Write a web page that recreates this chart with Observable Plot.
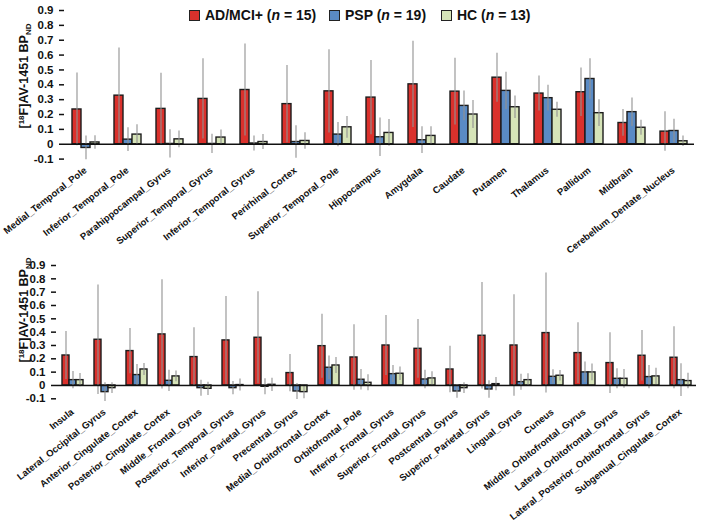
<!DOCTYPE html>
<html><head><meta charset="utf-8">
<script src="https://cdn.jsdelivr.net/npm/d3@7"></script>
<script src="https://cdn.jsdelivr.net/npm/@observablehq/plot@0.6"></script>
<style>
body{margin:0;background:#fff;font-family:"Liberation Sans",Arial,sans-serif;}
#wrap{position:relative;width:704px;height:527px;overflow:hidden;background:#fff;}
#top{position:absolute;left:0;top:0;}
#bottom{position:absolute;left:0;top:255px;}
.leg{position:absolute;top:7px;font-weight:bold;font-size:14px;white-space:nowrap;display:flex;align-items:center;color:#111;}
.sw{display:inline-block;width:9px;height:9px;border:1.5px solid #222;margin-right:5px;}
</style>
</head><body>
<div id="wrap">
  <div id="top"></div>
  <div id="bottom"></div>
  <div class="leg" style="left:189px"><span class="sw" style="background:#da312c"></span>AD/MCI+ (<i>n</i>&nbsp;=&nbsp;15)</div>
  <div class="leg" style="left:329px"><span class="sw" style="background:#5a8bc5"></span>PSP (<i>n</i>&nbsp;=&nbsp;19)</div>
  <div class="leg" style="left:441px"><span class="sw" style="background:#d6e4b8"></span>HC (<i>n</i>&nbsp;=&nbsp;13)</div>
</div>
<script>
const groups = ["AD/MCI+", "PSP", "HC"];
const groupColors = ["#da312c", "#5a8bc5", "#d6e4b8"];
const yTicks = [-0.1, 0, 0.1, 0.2, 0.3, 0.4, 0.5, 0.6, 0.7, 0.8, 0.9];

const regionsTop = ["Medial_Temporal_Pole","Inferior_Temporal_Pole","Parahippocampal_Gyrus","Superior_Temporal_Gyrus","Inferior_Temporal_Gyrus","Perirhinal_Cortex","Superior_Temporal_Pole","Hippocampus","Amygdala","Caudate","Putamen","Thalamus","Pallidum","Midbrain","Cerebellum_Dentate_Nucleus"];
const adTop    = [0.234,0.327,0.238,0.305,0.365,0.270,0.356,0.314,0.403,0.354,0.448,0.341,0.350,0.143,0.085];
const adTopSD  = [0.245,0.320,0.240,0.270,0.310,0.260,0.280,0.250,0.290,0.225,0.165,0.118,0.163,0.090,0.133];
const pspTop   = [-0.025,0.031,0.002,0.002,0.005,0.015,0.065,0.047,0.027,0.258,0.359,0.310,0.439,0.216,0.089];
const pspTopSD = [0.080,0.080,0.095,0.065,0.050,0.110,0.082,0.130,0.090,0.100,0.125,0.087,0.136,0.096,0.080];
const hcTop    = [0.012,0.065,0.033,0.045,0.015,0.022,0.114,0.076,0.056,0.200,0.249,0.232,0.209,0.111,0.020];
const hcTopSD  = [0.045,0.066,0.056,0.050,0.050,0.055,0.073,0.090,0.062,0.094,0.076,0.050,0.090,0.050,0.036];

const regionsBottom = ["Insula","Lateral_Occipital_Gyrus","Anterior_Cingulate_Cortex","Posterior_Cingulate_Cortex","Middle_Frontal_Gyrus","Posterior_Temporal_Gyrus","Inferior_Parietal_Gyrus","Precentral_Gyrus","Medial_Orbitofrontal_Cortex","Orbitofrontal_Pole","Inferior_Frontal_Gyrus","Superior_Frontal_Gyrus","Postcentral_Gyrus","Superior_Parietal_Gyrus","Lingual_Gyrus","Cuneus","Middle_Orbitofrontal_Gyrus","Lateral_Orbitofrontal_Gyrus","Lateral_Posterior_Orbitofrontal_Gyrus","Subgenual_Cingulate_Cortex"];
const adBottom    = [0.225,0.343,0.258,0.383,0.213,0.338,0.358,0.093,0.295,0.210,0.300,0.275,0.120,0.373,0.300,0.393,0.243,0.168,0.223,0.208];
const adBottomSD  = [0.180,0.410,0.170,0.410,0.220,0.330,0.345,0.140,0.240,0.245,0.225,0.220,0.175,0.400,0.380,0.450,0.228,0.228,0.190,0.233];
const pspBottom   = [0.040,-0.050,0.078,0.035,-0.020,-0.020,-0.010,-0.045,0.133,0.043,0.085,0.045,-0.045,-0.030,0.025,0.065,0.098,0.050,0.063,0.040];
const pspBottomSD = [0.065,0.070,0.080,0.080,0.060,0.050,0.060,0.060,0.088,0.077,0.065,0.070,0.050,0.065,0.060,0.053,0.078,0.075,0.087,0.123];
const hcBottom    = [0.040,-0.020,0.120,0.068,-0.025,0.003,0.005,-0.050,0.150,0.020,0.088,0.053,-0.020,0.010,0.040,0.073,0.098,0.050,0.068,0.033];
const hcBottomSD  = [0.050,0.040,0.045,0.040,0.050,0.045,0.050,0.050,0.060,0.060,0.050,0.050,0.040,0.050,0.048,0.040,0.063,0.070,0.062,0.058];

function table(regions, means, sds) {
  const rows = [];
  regions.forEach((r, i) => {
    groups.forEach((g, k) => {
      rows.push({region: r, group: g, value: means[k][i], sd: sds[k][i]});
    });
  });
  return rows;
}

function panel(regions, data, opts) {
  const plot = Plot.plot({
    width: 704,
    height: opts.height,
    marginLeft: opts.marginLeft,
    marginRight: opts.marginRight,
    marginTop: opts.marginTop,
    marginBottom: opts.marginBottom,
    style: {fontFamily: "'Liberation Sans', Arial, sans-serif", color: "#111", background: "transparent", overflow: "visible"},
    fx: {domain: regions, padding: 0},
    x: {domain: groups, paddingInner: 0, paddingOuter: 0.675, axis: null},
    y: {domain: [-0.1, 0.9]},
    color: {domain: groups, range: groupColors},
    marks: [
      Plot.barY(data, {fx: "region", x: "group", y: "value", fill: "group", stroke: "#1c1c1c", strokeWidth: 1.4}),
      Plot.ruleX(data, {fx: "region", x: "group", y1: d => d.value - d.sd, y2: d => d.value + d.sd, stroke: "#929292", strokeWidth: 1.3, strokeOpacity: 0.85}),
      Plot.ruleY([0], {stroke: "#111", strokeWidth: 1.5}),
      Plot.axisY({ticks: yTicks, tickFormat: d => d === 0 ? "0" : d.toFixed(1), tickSize: 5, tickPadding: 6, fontSize: 11.5, fontWeight: "bold", label: null, line: true, strokeWidth: 1.5}),
      Plot.axisFx({anchor: "bottom", tickRotate: -38, tickSize: 0, tickPadding: opts.labelPad, fontSize: 9.5, fontWeight: "bold", label: null})
    ]
  });
  const svg = d3.select(plot);
  const t = svg.append("text")
    .attr("transform", `translate(${opts.titleX},${opts.titleY}) rotate(-90)`)
    .attr("text-anchor", "middle")
    .attr("font-weight", "bold")
    .attr("font-size", 12.5)
    .attr("fill", "#111");
  t.append("tspan").text("[");
  t.append("tspan").attr("font-size", 8).attr("dy", -4.5).text("18");
  t.append("tspan").attr("dy", 4.5).text("F]AV-1451 BP");
  t.append("tspan").attr("font-size", 8).attr("dy", 3).text("ND");
  return plot;
}

const dataTop = table(regionsTop, [adTop, pspTop, hcTop], [adTopSD, pspTopSD, hcTopSD]);
const dataBottom = table(regionsBottom, [adBottom, pspBottom, hcBottom], [adBottomSD, pspBottomSD, hcBottomSD]);

document.getElementById("top").appendChild(panel(regionsTop, dataTop, {
  height: 255, marginLeft: 62, marginRight: 9, marginTop: 10, marginBottom: 96.4, labelPad: 10, titleX: 28, titleY: 76
}));
document.getElementById("bottom").appendChild(panel(regionsBottom, dataBottom, {
  height: 272, marginLeft: 54, marginRight: 6, marginTop: 10, marginBottom: 128.7, labelPad: 12, titleX: 28, titleY: 55
}));
</script>
</body></html>
